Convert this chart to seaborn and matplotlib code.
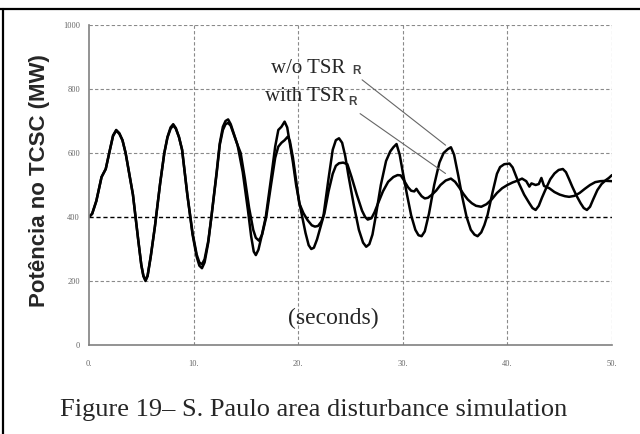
import numpy as np
import pandas as pd
import seaborn as sns
import matplotlib.pyplot as plt
from matplotlib.lines import Line2D

# 共同部分 (0 ~ 14.5 s)，两条曲线几乎重合
t_common = [0, 0.3, 0.7, 1.2, 1.6, 2.0, 2.3, 2.6, 2.9, 3.2, 3.5, 3.8, 4.2, 4.7, 5.0,
            5.2, 5.4, 5.6, 5.9, 6.3, 6.8, 7.2, 7.5, 7.8, 8.05, 8.3, 8.6, 8.9, 9.4,
            9.9, 10.3, 10.55, 10.8, 11.05, 11.4, 11.7, 12.2, 12.5, 12.8, 13.05, 13.3,
            13.55, 13.8, 14.2]
p_common_wo = [400, 410, 450, 525, 550, 610, 655, 672, 662, 640, 600, 545, 470, 330, 250,
               215, 200, 215, 275, 370, 505, 600, 650, 680, 690, 678, 650, 610, 470,
               345, 275, 248, 240, 258, 320, 400, 540, 630, 682, 700, 705, 690, 665, 625]
p_common_with = [400, 410, 450, 525, 550, 610, 653, 670, 660, 640, 600, 545, 470, 330, 250,
                 217, 203, 217, 277, 370, 505, 600, 648, 676, 686, 676, 650, 610, 470,
                 350, 282, 258, 252, 268, 325, 400, 535, 625, 672, 690, 694, 685, 662, 625]

# w/o TSR
t_wo = [14.7, 15.2, 15.5, 15.75, 15.95, 16.2, 16.5, 16.9, 17.4, 17.8, 18.1, 18.4, 18.7,
        18.95, 19.2, 19.5, 19.8, 20.2, 20.7, 21.0, 21.25, 21.5, 21.8, 22.1, 22.4, 22.9,
        23.3, 23.6, 23.9, 24.2, 24.5, 24.8, 25.3, 25.8, 26.2, 26.5, 26.8, 27.1, 27.4,
        27.9, 28.4, 28.8, 29.1, 29.4, 29.7, 30.0, 30.4, 30.8, 31.2, 31.5, 31.8, 32.1,
        32.5, 33.0, 33.5, 33.9, 34.3, 34.6, 34.9, 35.3, 35.7, 36.1, 36.5, 36.85, 37.15,
        37.5, 37.8, 38.1, 38.6, 39.0, 39.3, 39.7, 40.2, 40.5, 40.8, 41.1, 41.6, 42.1,
        42.4, 42.7, 43.0, 43.3, 43.7, 44.1, 44.5, 44.9, 45.3, 45.6, 45.9, 46.2, 46.6,
        47.0, 47.3, 47.6, 47.9, 48.2, 48.6, 49.0, 49.4, 49.7, 50.0]
p_wo = [540, 420, 340, 292, 281, 298, 340, 400, 520, 620, 672, 682, 698,
        680, 630, 570, 500, 430, 350, 312, 300, 304, 330, 365, 400, 520,
        610, 640, 646, 632, 590, 530, 440, 360, 320, 307, 315, 345, 400,
        500, 575, 605, 618, 628, 595, 540, 470, 405, 360, 343, 340, 355,
        410, 500, 570, 600, 612, 618, 595, 530, 460, 400, 360, 345, 340,
        352, 375, 406, 480, 535, 556, 565, 567, 555, 530, 505, 470, 443,
        428, 422, 435, 460, 490, 518, 536, 547, 550, 540, 518, 495, 467,
        443, 428, 422, 432, 455, 484, 503, 515, 522, 531]

# with TSR
t_with = [14.5, 14.9, 15.3, 15.7, 15.95, 16.25, 16.55, 16.95, 17.4, 17.8, 18.1, 18.4,
          18.7, 19.0, 19.2, 19.5, 19.8, 20.1, 20.5, 20.9, 21.3, 21.6, 21.9, 22.2, 22.5,
          22.9, 23.3, 23.6, 23.9, 24.3, 24.7, 25.1, 25.6, 26.1, 26.4, 26.65, 27.0, 27.3,
          27.6, 28.1, 28.6, 29.1, 29.5, 29.8, 30.1, 30.5, 30.8, 31.1, 31.3, 31.5, 31.8,
          32.1, 32.4, 32.8, 33.2, 33.6, 34.1, 34.6, 35.0, 35.4, 35.8, 36.2, 36.6, 37.0,
          37.5, 38.0, 38.5, 39.0, 39.5, 40.0, 40.5, 41.0, 41.4, 41.8, 42.1, 42.3, 42.7,
          43.0, 43.25, 43.5, 44.0, 44.5, 45.0, 45.5, 45.9, 46.4, 46.9, 47.4, 47.9, 48.4,
          48.9, 49.4, 50.0]
p_with = [600, 520, 430, 360, 335, 326, 345, 401, 500, 585, 620, 632,
          640, 651, 638, 585, 515, 443, 412, 390, 374, 370, 372, 385, 410,
          480, 535, 560, 568, 570, 565, 525, 470, 420, 400, 392, 396, 415,
          440, 480, 510, 525, 531, 530, 515, 493, 482, 480, 488, 478, 465,
          458, 460, 470, 483, 500, 514, 520, 510, 492, 472, 455, 443, 435,
          432, 440, 455, 475, 490, 500, 508, 514, 520, 512, 495, 505, 500,
          503, 522, 497, 490, 478, 470, 465, 463, 466, 475, 488, 500, 509,
          512, 513, 512]

x_ticks = [0, 10, 20, 30, 40, 50]
x_labels = ['0.', '10.', '20.', '30.', '40.', '50.']
y_ticks = [0, 200, 400, 600, 800, 1000]
y_labels = ['0', '200', '400', '600', '800', '1000']

df = pd.concat([
    pd.DataFrame({'t': t_common + t_wo, 'P': p_common_wo + p_wo, 'caso': 'w/o TSR'}),
    pd.DataFrame({'t': t_common + t_with, 'P': p_common_with + p_with, 'caso': 'with TSR'}),
])

sns.set_style('white')
fig = plt.figure(figsize=(6.4, 4.34), dpi=100)
ax = fig.add_axes([89 / 640, 1 - 345 / 434, 523 / 640, 320 / 434])

sns.lineplot(data=df, x='t', y='P', hue='caso', palette=['black', 'black'],
             linewidth=1.8, legend=False, sort=False, estimator=None, ax=ax)

ax.set_xlim(0, 50)
ax.set_ylim(0, 1000)
ax.set_xticks(x_ticks)
ax.set_xticklabels(x_labels)
ax.set_yticks(y_ticks)
ax.set_yticklabels(y_labels)
ax.set_xlabel('')
ax.set_ylabel('')

# 网格（虚线），400 线更深
for v in y_ticks[1:]:
    ax.axhline(v, color='black' if v == 400 else '#8a8a8a', ls=(0, (3, 2)),
               lw=1.0 if v == 400 else 0.8, zorder=0)
for v in x_ticks[1:]:
    ax.axvline(v, color='#8a8a8a', ls=(0, (3, 2)), lw=0.8, zorder=0)

for s in ['top', 'right']:
    ax.spines[s].set_visible(False)
for s in ['left', 'bottom']:
    ax.spines[s].set_color('#808080')
    ax.spines[s].set_linewidth(1.2)

ax.tick_params(axis='both', direction='inout', length=5, width=0.8, color='#808080',
               labelsize=6, labelcolor='#666666')
ax.tick_params(axis='x', pad=8)
ax.tick_params(axis='y', pad=4)
for lab in ax.get_xticklabels() + ax.get_yticklabels():
    lab.set_family('Liberation Serif')

# 标注
ax.text(17.4, 864, 'w/o TSR', family='Liberation Serif', fontsize=15, va='center', ha='left')
ax.text(16.8, 778, 'with TSR', family='Liberation Serif', fontsize=15, va='center', ha='left')
ax.text(25.6, 857, 'R', family='Liberation Sans', fontsize=8.5, fontweight='bold',
        color='#444444', va='center', ha='center')
ax.text(25.2, 760, 'R', family='Liberation Sans', fontsize=8.5, fontweight='bold',
        color='#444444', va='center', ha='center')
ax.annotate('', xy=(34.3, 619), xytext=(25.9, 834),
            arrowprops=dict(arrowstyle='-', color='#666666', lw=0.8))
ax.annotate('', xy=(34.3, 531), xytext=(25.7, 728),
            arrowprops=dict(arrowstyle='-', color='#666666', lw=0.8))
ax.text(23.4, 84, '(seconds)', family='Liberation Serif', fontsize=17, va='center', ha='center')

fig.text(40 / 640, 1 - 181 / 434, 'Potência no TCSC (MW)', family='Liberation Sans',
         fontsize=16, fontweight='bold', rotation=90, va='center', ha='center')
fig.text(60 / 640, 1 - 410 / 434, 'Figure 19– S. Paulo area disturbance simulation',
         family='Liberation Serif', fontsize=19, va='center', ha='left')

# 外框线
fig.add_artist(Line2D([0, 1], [1 - 9 / 434] * 2, transform=fig.transFigure, color='black', lw=1.6))
fig.add_artist(Line2D([3 / 640] * 2, [0, 1 - 9 / 434], transform=fig.transFigure, color='black', lw=1.6))

fig.savefig('out.png', dpi=100)
